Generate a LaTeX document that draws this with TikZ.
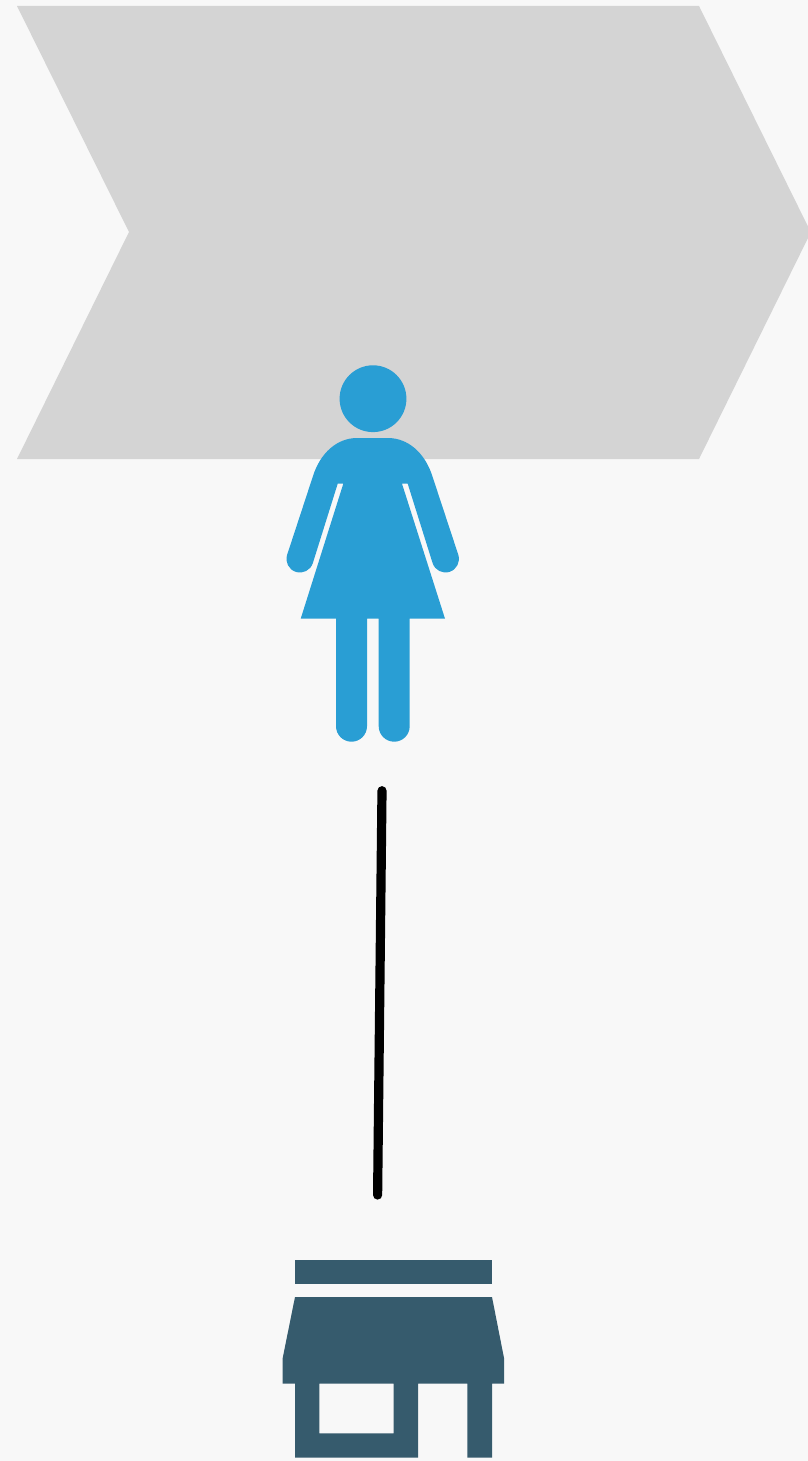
\documentclass[tikz,border=0pt]{standalone}
\definecolor{pagebg}{HTML}{F8F8F8}
\definecolor{chevgray}{HTML}{D4D4D4}
\definecolor{womanblue}{HTML}{299ED4}
\definecolor{storeslate}{HTML}{365B6D}
\tikzset{
  chevronshape/.style={fill=chevgray,draw=none},
  womanshape/.style={fill=womanblue,draw=none},
  storeshape/.style={fill=storeslate,draw=none,even odd rule},
  connector/.style={draw=black,line width=9.2pt,line cap=round}
}
\begin{document}
\begin{tikzpicture}[x=1pt,y=1pt,yscale=-1]
\useasboundingbox (0,0) rectangle (808,1461);
\fill[pagebg] (0,0) rectangle (808,1461);
% chevron
\path[chevronshape] (17,6) -- (699,6) -- (808,226.5) -- (808,238) -- (699,459) -- (17,459) -- (129,232) -- cycle;
% woman
\path[womanshape] (373,398.7) circle[radius=33.4pt];
\path[womanshape] (357,438) -- (388,438)
  .. controls (408,438) and (425,453) .. (432.3,476)
  -- (458.3,554.8)
  .. controls (460.6,561.89) and (456.72,569.51) .. (449.63,571.81)
  .. controls (442.54,574.11) and (434.92,570.23) .. (432.62,563.14)
  -- (407.7,483.7) -- (402,483.7) -- (445,618.7) -- (409.7,618.7)
  -- (409.7,726.2)
  .. controls (409.7,734.76) and (402.76,741.7) .. (394.2,741.7)
  .. controls (385.64,741.7) and (378.7,734.76) .. (378.7,726.2)
  -- (378.7,618.7) -- (367,618.7)
  -- (367,726.2)
  .. controls (367,734.76) and (360.06,741.7) .. (351.5,741.7)
  .. controls (342.94,741.7) and (336,734.76) .. (336,726.2)
  -- (336,618.7) -- (300.7,618.7) -- (343.3,483.7) -- (337.7,483.7)
  -- (312.8,563.2)
  .. controls (310.5,570.29) and (302.88,574.17) .. (295.79,571.87)
  .. controls (288.7,569.57) and (284.82,561.95) .. (287.12,554.86)
  -- (313,476)
  .. controls (320.3,453) and (337,438) .. (357,438) -- cycle;
% connector
\coordinate (lineTop) at (382,790.7);
\coordinate (lineBottom) at (377.6,1195);
\draw[connector] (lineTop) -- (lineBottom);
% store
\path[storeshape] (295,1260) rectangle (492,1284.3);
\path[storeshape] (295,1297) -- (492,1297) -- (504,1358) -- (504,1383.7) -- (492,1383.7)
  -- (492,1457.7) -- (467.3,1457.7) -- (467.3,1383.7) -- (418,1383.7) -- (418,1457.7)
  -- (295,1457.7) -- (295,1383.7) -- (282.7,1383.7) -- (282.7,1358) -- cycle
  (319.3,1383.7) rectangle (393.7,1433.3);
\end{tikzpicture}
\end{document}
